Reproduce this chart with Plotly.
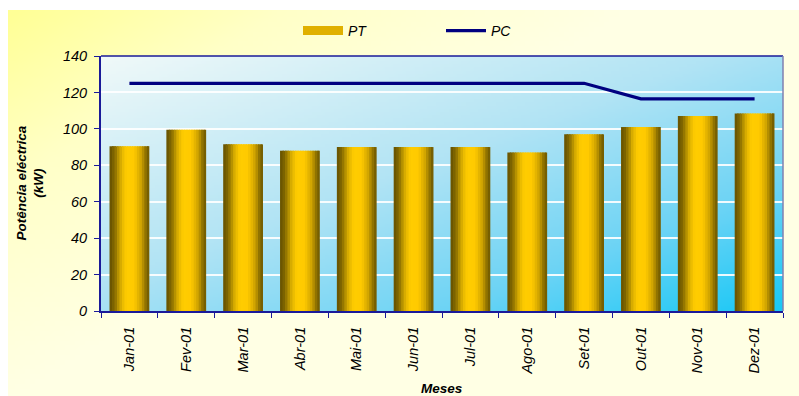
import base64
import struct
import zlib

import numpy as np
import plotly.graph_objects as go

# ---- data -------------------------------------------------------------
meses = ["Jan-01", "Fev-01", "Mar-01", "Abr-01", "Mai-01", "Jun-01",
         "Jul-01", "Ago-01", "Set-01", "Out-01", "Nov-01", "Dez-01"]
pt = [90.5, 99.5, 91.5, 88.0, 90.0, 90.0, 90.0, 87.0, 97.0, 101.0, 107.0, 108.5]
pc = [125, 125, 125, 125, 125, 125, 125, 125, 125, 116.5, 116.5, 116.5]
y_ticks = [0, 20, 40, 60, 80, 100, 120, 140]


# ---- small PNG helper for gradient backgrounds -----------------------------
def png_uri(rgb):
    h, w, _ = rgb.shape
    raw = b"".join(b"\x00" + rgb[r].astype(np.uint8).tobytes() for r in range(h))

    def chunk(tag, data):
        return (struct.pack(">I", len(data)) + tag + data
                + struct.pack(">I", zlib.crc32(tag + data) & 0xFFFFFFFF))

    png = (b"\x89PNG\r\n\x1a\n"
           + chunk(b"IHDR", struct.pack(">IIBBBBB", w, h, 8, 2, 0, 0, 0))
           + chunk(b"IDAT", zlib.compress(raw, 9))
           + chunk(b"IEND", b""))
    return "data:image/png;base64," + base64.b64encode(png).decode()


def ramp(t, stops):
    pos = np.array([s[0] for s in stops])
    out = np.stack([np.interp(t, pos, [s[1][c] for s in stops]) for c in range(3)], axis=-1)
    return out


W, H = 160, 80
u = np.linspace(0, 1, W)[None, :].repeat(H, 0)
v = np.linspace(0, 1, H)[:, None].repeat(W, 1)

# plot area: pale top-left to cyan bottom-right
t_blue = (u + v) / 2
blue = ramp(t_blue, [(0.0, (240, 249, 249)), (0.45, (178, 228, 244)),
                     (0.75, (110, 212, 245)), (1.0, (25, 200, 245))])

# chart area: yellow top-left fading to cream
t_yel = np.clip((u * 1.3 + v) / 1.0, 0, 1)
yellow = ramp(t_yel, [(0.0, (255, 255, 150)), (0.45, (255, 255, 200)),
                      (1.0, (255, 255, 228))])

# ---- layout geometry (pixels) -----------------------------------------------
FIG_W, FIG_H = 799, 396
ML, MR, MT, MB = 101, 16, 56, 85
PW, PH = FIG_W - ML - MR, FIG_H - MT - MB


def px_x(p):
    return (p - ML) / PW


def px_y(p):
    return (FIG_H - MB - p) / PH


fig = go.Figure()

# ---- cylinder-shaded bars: vertical strips of one bar width -----------------
bar_w = 0.7
n_strips = 16
shade = [(0.0, (100, 80, 0)), (0.12, (130, 104, 0)), (0.3, (225, 180, 0)),
         (0.42, (255, 204, 0)), (0.62, (255, 202, 0)), (0.8, (205, 162, 0)),
         (0.93, (130, 104, 0)), (1.0, (110, 88, 0))]
sw = bar_w / n_strips
for i in range(n_strips):
    c = ramp(np.array((i + 0.5) / n_strips), shade)
    col = "rgb(%d,%d,%d)" % tuple(int(round(x)) for x in c)
    last = i == n_strips - 1
    fig.add_trace(go.Bar(
        x=meses, y=pt, width=sw * (1.0 if last else 1.6),
        offset=-bar_w / 2 + i * sw,
        marker=dict(color=col, line=dict(width=0)),
        name="PT", showlegend=False, hoverinfo="skip"))

# legend entry for PT (wide gold swatch)
fig.add_trace(go.Scatter(
    x=[None], y=[None], name="PT", mode="lines",
    line=dict(color="#E0B000", width=9)))

fig.add_trace(go.Scatter(
    x=meses, y=pc, mode="lines", name="PC",
    line=dict(color="#000080", width=3.2)))

# ---- backgrounds ----------------------------------------------------------
images = [
    dict(source=png_uri(yellow), xref="paper", yref="paper",
         x=px_x(8), y=px_y(10), sizex=(FIG_W - 8) / PW, sizey=(FIG_H - 10) / PH,
         sizing="stretch", xanchor="left", yanchor="top", layer="below"),
    dict(source=png_uri(blue), xref="paper", yref="paper",
         x=0, y=1, sizex=1, sizey=1,
         sizing="stretch", xanchor="left", yanchor="top", layer="below"),
]

tick_font = dict(family="Liberation Sans, Arial, sans-serif", size=14.5,
                 color="#000000", style="italic")
title_font = dict(family="Liberation Sans, Arial, sans-serif", size=13.5,
                  color="#000000", style="italic", weight="bold")

fig.update_layout(
    width=FIG_W, height=FIG_H,
    margin=dict(l=ML, r=MR, t=MT, b=MB, autoexpand=False),
    paper_bgcolor="#FFFFFF", plot_bgcolor="rgba(0,0,0,0)",
    barmode="overlay", bargap=0.3,
    images=images,
    showlegend=True,
    legend=dict(orientation="h", x=px_x(298), y=px_y(31), xanchor="left",
                yanchor="middle", bgcolor="rgba(0,0,0,0)",
                font=dict(family="Liberation Sans, Arial, sans-serif", size=14,
                          color="#000000", style="italic"),
                entrywidth=88, entrywidthmode="pixels", itemwidth=40,
                traceorder="normal"),
    xaxis=dict(type="category", tickangle=-90, tickfont=tick_font,
               showline=True, linecolor="#1A1A99", linewidth=2,
               ticks="outside", tickson="boundaries", ticklen=5,
               tickcolor="#1A1A99", showgrid=False, ticklabelstandoff=8,
               range=[-0.5, 11.5]),
    yaxis=dict(range=[0, 140], tickvals=y_ticks, tickfont=tick_font,
               showline=True, linecolor="#1A1A99", linewidth=2,
               ticks="outside", ticklen=5, tickcolor="#1A1A99",
               showgrid=True, gridcolor="rgba(255,255,255,0.9)", gridwidth=1.5,
               zeroline=False, ticklabelstandoff=4),
    shapes=[
        dict(type="line", xref="paper", yref="paper", x0=0, x1=1, y0=1, y1=1,
             line=dict(color="#1A1A99", width=1.5)),
        dict(type="line", xref="paper", yref="paper", x0=1, x1=1, y0=0, y1=1,
             line=dict(color="#8080B0", width=1.5)),
    ],
    annotations=[
        dict(text="Potência eléctrica<br>(kW)", xref="paper", yref="paper",
             x=px_x(30), y=0.5, textangle=-90, showarrow=False,
             font=title_font, xanchor="center", yanchor="middle"),
        dict(text="Meses", xref="paper", yref="paper",
             x=0.5, y=px_y(388), showarrow=False,
             font=title_font, xanchor="center", yanchor="middle"),
    ],
)

fig.write_html("out.html")
